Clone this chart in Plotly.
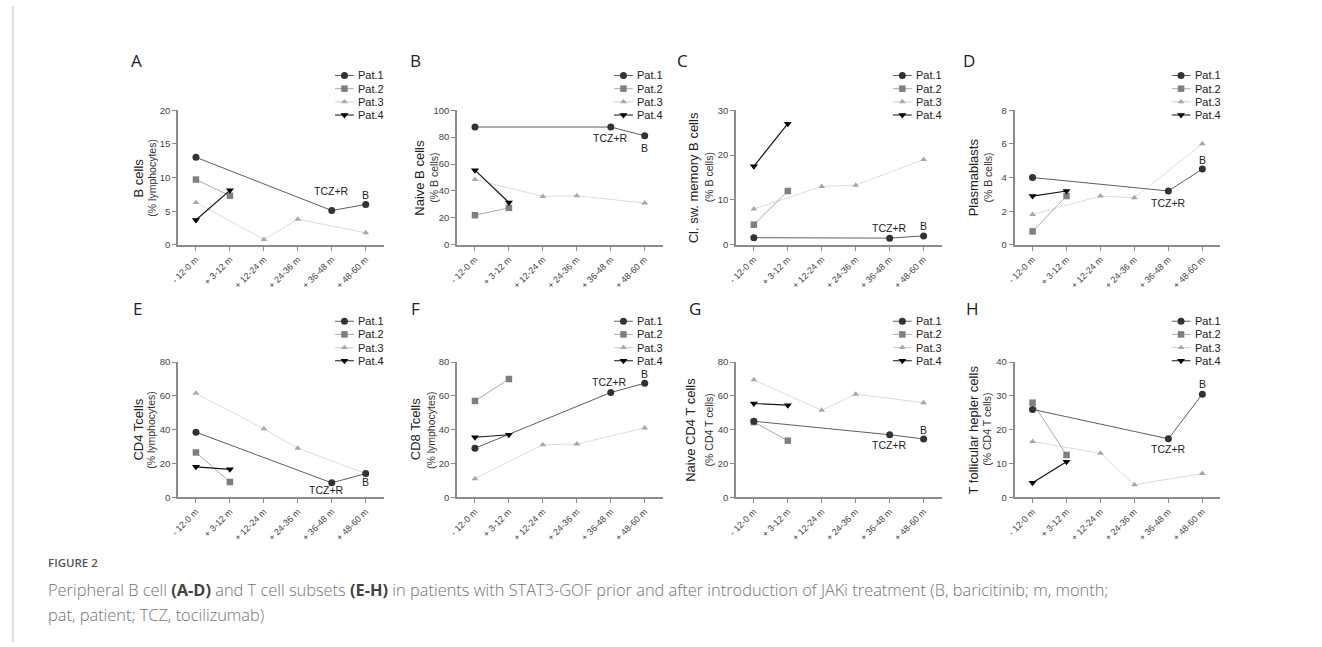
import plotly.graph_objects as go

W, H = 1322, 647

# ---------------- data ----------------
categories = ["- 12-0 m", "+ 3-12 m", "+ 12-24 m", "+ 24-36 m", "+ 36-48 m", "+ 48-60 m"]
patients = ["Pat.1", "Pat.2", "Pat.3", "Pat.4"]
panel_letters = ["A", "B", "C", "D", "E", "F", "G", "H"]
y_titles = ["B cells", "Naive B cells", "Cl. sw. memory B cells", "Plasmablasts",
            "CD4 Tcells", "CD8 Tcells", "Naive CD4 T cells", "T follicular hepler cells"]
y_units = ["(% lymphocytes)", "(% B cells)", "(% B cells)", "(% B cells)",
           "(% lymphocytes)", "(% lymphocytes)", "(% CD4 T cells)", "(% CD4 T cells)"]
y_max = [20, 100, 30, 8, 80, 80, 80, 40]
y_dtick = [5, 20, 10, 2, 20, 20, 20, 10]

N = None
A_pat1 = [13.0, N, N, N, 5.1, 6.0]
A_pat2 = [9.7, 7.3, N, N, N, N]
A_pat3 = [6.3, N, 0.8, 3.8, N, 1.8]
A_pat4 = [3.7, 8.1, N, N, N, N]
B_pat1 = [87.5, N, N, N, 87.5, 81.0]
B_pat2 = [22.0, 27.5, N, N, N, N]
B_pat3 = [48.5, N, 36.0, 36.5, N, 31.0]
B_pat4 = [55.5, 31.5, N, N, N, N]
C_pat1 = [1.6, N, N, N, 1.5, 2.0]
C_pat2 = [4.5, 12.0, N, N, N, N]
C_pat3 = [8.0, N, 13.0, 13.3, N, 19.0]
C_pat4 = [17.5, 27.0, N, N, N, N]
D_pat1 = [4.0, N, N, N, 3.2, 4.5]
D_pat2 = [0.8, 2.9, N, N, N, N]
D_pat3 = [1.8, N, 2.9, 2.8, N, 6.0]
D_pat4 = [2.9, 3.2, N, N, N, N]
E_pat1 = [38.5, N, N, N, 8.5, 14.0]
E_pat2 = [26.5, 9.0, N, N, N, N]
E_pat3 = [61.5, N, 40.5, 29.0, N, 14.0]
E_pat4 = [18.0, 16.5, N, N, N, N]
F_pat1 = [29.0, N, N, N, 62.0, 67.5]
F_pat2 = [57.0, 70.0, N, N, N, N]
F_pat3 = [11.0, N, 31.0, 31.5, N, 41.0]
F_pat4 = [35.5, 37.0, N, N, N, N]
G_pat1 = [45.0, N, N, N, 37.0, 34.5]
G_pat2 = [44.5, 33.5, N, N, N, N]
G_pat3 = [69.5, N, 51.5, 61.0, N, 56.0]
G_pat4 = [55.5, 54.5, N, N, N, N]
H_pat1 = [26.0, N, N, N, 17.3, 30.5]
H_pat2 = [28.0, 12.5, N, N, N, N]
H_pat3 = [16.5, N, 13.0, 3.7, N, 7.0]
H_pat4 = [4.3, 10.5, N, N, N, N]

panels = [
    [A_pat1, A_pat2, A_pat3, A_pat4],
    [B_pat1, B_pat2, B_pat3, B_pat4],
    [C_pat1, C_pat2, C_pat3, C_pat4],
    [D_pat1, D_pat2, D_pat3, D_pat4],
    [E_pat1, E_pat2, E_pat3, E_pat4],
    [F_pat1, F_pat2, F_pat3, F_pat4],
    [G_pat1, G_pat2, G_pat3, G_pat4],
    [H_pat1, H_pat2, H_pat3, H_pat4],
]
label_tcz = "TCZ+R"
label_b = "B"

# ---------------- styles / layout ----------------
FONT = "Liberation Sans, Arial, sans-serif"
styles = [
    dict(mc="#333333", lc="#5f5f5f", sym="circle", size=7, lw=1.0),
    dict(mc="#7f7f7f", lc="#ababab", sym="square", size=6.5, lw=1.0),
    dict(mc="#a8a8a8", lc="#dcdcdc", sym="triangle-up", size=6, lw=1.0),
    dict(mc="#000000", lc="#151515", sym="triangle-down", size=7, lw=1.2),
]
draw_order = [2, 1, 0, 3]

col_x0 = [171, 451.7, 732.3, 1012.7]
plot_w = 207
row_top = [106, 362.3]
row_bot = [243, 499.7]
leg_top = [70.7, 320.7]
leg_step = 13.4
title_off = [-39.3, -38, -42.3, -41, -39.3, -41.7, -45, -41]
unit_off = [-27, -24, -27.3, -27.7, -27, -26.7, -27.3, -27.7]
letter_x = [129, 410, 679, 967, 130, 410, 691, 970]
letter_y = [55, 308]
tcz_shift = [-20, 11, -10.5, 12, 7.6, -10.5, 10, 10.7]
tcz_xshift = [0, 0, 0, 0, -5, -1, 0, 0]
b_shift = [-9, 12, -9.6, -9.3, 8.6, -9.5, -8.7, -10]


def fx(px):
    return px / W


def fy(py):
    return 1 - py / H


fig = go.Figure()
layout = dict(
    width=W, height=H,
    margin=dict(l=0, r=0, t=0, b=0),
    paper_bgcolor="white", plot_bgcolor="rgba(0,0,0,0)",
    showlegend=False,
    font=dict(family=FONT, color="#333"),
)
annotations = []
shapes = []

for i, series in enumerate(panels):
    r, c = divmod(i, 4)
    n = i + 1
    x0 = col_x0[c]
    xa = "x" if n == 1 else f"x{n}"
    ya = "y" if n == 1 else f"y{n}"
    axc = "#8c8c8c"
    layout["xaxis" if n == 1 else f"xaxis{n}"] = dict(
        domain=[fx(x0), fx(x0 + plot_w)], anchor=ya,
        range=[-0.53, 5.53], tickmode="array", tickvals=list(range(len(categories))),
        ticktext=categories, tickangle=-45,
        showline=True, linecolor=axc, linewidth=1.5,
        ticks="outside", ticklen=4, tickcolor=axc, tickwidth=1.2,
        showgrid=False, zeroline=False,
        tickfont=dict(family=FONT, size=9, color="#444"), fixedrange=True,
    )
    layout["yaxis" if n == 1 else f"yaxis{n}"] = dict(
        domain=[fy(row_bot[r]), fy(row_top[r])], anchor=xa,
        range=[0, y_max[i]], dtick=y_dtick[i], tick0=0,
        showline=True, linecolor=axc, linewidth=1.5,
        ticks="outside", ticklen=4, tickcolor=axc, tickwidth=1.2,
        showgrid=False, zeroline=False,
        tickfont=dict(family=FONT, size=9.5, color="#444"), fixedrange=True,
    )
    for k in draw_order:
        st = styles[k]
        fig.add_trace(go.Scatter(
            x=list(range(len(categories))), y=series[k], xaxis=xa, yaxis=ya,
            mode="lines+markers", connectgaps=True, cliponaxis=False,
            line=dict(color=st["lc"], width=st["lw"]),
            marker=dict(color=st["mc"], symbol=st["sym"], size=st["size"], line=dict(width=0)),
            name=patients[k], hoverinfo="skip",
        ))
    p1 = series[0]
    annotations.append(dict(x=4, y=p1[4], xref=xa, yref=ya, text=label_tcz, showarrow=False,
                            xanchor="center", yanchor="middle", yshift=-tcz_shift[i],
                            xshift=tcz_xshift[i],
                            font=dict(family=FONT, size=10.5, color="#222")))
    annotations.append(dict(x=5, y=p1[5], xref=xa, yref=ya, text=label_b, showarrow=False,
                            xanchor="center", yanchor="middle", yshift=-b_shift[i],
                            font=dict(family=FONT, size=10.5, color="#222")))
    yc = (row_top[r] + row_bot[r]) / 2
    annotations.append(dict(x=fx(x0 + title_off[i]), y=fy(yc), xref="paper", yref="paper",
                            text=y_titles[i], textangle=-90, showarrow=False,
                            xanchor="center", yanchor="middle",
                            font=dict(family=FONT, size=13, color="#222")))
    annotations.append(dict(x=fx(x0 + unit_off[i]), y=fy(yc), xref="paper", yref="paper",
                            text=y_units[i], textangle=-90, showarrow=False,
                            xanchor="center", yanchor="middle",
                            font=dict(family=FONT, size=10.5, color="#333")))
    annotations.append(dict(x=fx(letter_x[i]), y=fy(letter_y[r]), xref="paper", yref="paper",
                            text=panel_letters[i], showarrow=False,
                            xanchor="center", yanchor="middle",
                            font=dict(family="Open Sans, sans-serif", size=17, color="#222")))

    # legend drawn in a small helper axis
    m = i + 9
    lxa, lya = f"x{m}", f"y{m}"
    lx0 = x0 + 158
    lt = leg_top[r] - 10
    layout[f"xaxis{m}"] = dict(domain=[fx(lx0), fx(lx0 + 60)], range=[0, 60], anchor=lya,
                              visible=False, fixedrange=True)
    layout[f"yaxis{m}"] = dict(domain=[fy(lt + 60), fy(lt)], range=[60, 0], anchor=lxa,
                              visible=False, fixedrange=True)
    for k, name in enumerate(patients):
        st = styles[k]
        yk = 10 + leg_step * k
        fig.add_trace(go.Scatter(
            x=[0, 19], y=[yk, yk], xaxis=lxa, yaxis=lya, mode="lines",
            line=dict(color=st["lc"] if k != 2 else "#cfcfcf", width=st["lw"]),
            hoverinfo="skip", cliponaxis=False))
        fig.add_trace(go.Scatter(
            x=[9.5], y=[yk], xaxis=lxa, yaxis=lya, mode="markers",
            marker=dict(color=st["mc"], symbol=st["sym"], size=st["size"], line=dict(width=0)),
            hoverinfo="skip", cliponaxis=False))
        annotations.append(dict(x=21.5, y=yk, xref=lxa, yref=lya, text=name, showarrow=False,
                                xanchor="left", yanchor="middle",
                                font=dict(family=FONT, size=11, color="#222")))

annotations.append(dict(x=fx(38), y=fy(566), xref="paper", yref="paper", text="FIGURE 2",
                        showarrow=False, xanchor="left", yanchor="middle",
                        font=dict(family="Open Sans, sans-serif", size=11.5, color="#555", weight=600)))
cap1 = ("Peripheral B cell <b><span style='color:#444'>(A-D)</span></b> and T cell subsets "
        "<b><span style='color:#444'>(E-H)</span></b> in patients with STAT3-GOF prior and after "
        "introduction of JAKi treatment (B, baricitinib; m, month;")
cap2 = "pat, patient; TCZ, tocilizumab)"
annotations.append(dict(x=fx(38), y=fy(594), xref="paper", yref="paper", text=cap1,
                        showarrow=False, xanchor="left", yanchor="middle",
                        font=dict(family="Open Sans, sans-serif", size=16.4, color="#747474", weight=300)))
annotations.append(dict(x=fx(38), y=fy(619), xref="paper", yref="paper", text=cap2,
                        showarrow=False, xanchor="left", yanchor="middle",
                        font=dict(family="Open Sans, sans-serif", size=16.4, color="#747474", weight=300)))

shapes.append(dict(type="line", xref="paper", yref="paper", x0=fx(5), x1=fx(5), y0=0, y1=1,
                   line=dict(color="#d0d0d0", width=1.5)))

layout["annotations"] = annotations
layout["shapes"] = shapes
fig.update_layout(**layout)
fig.write_html("out.html", config={"displayModeBar": False},
               post_script="document.body.style.margin='0';document.body.style.overflow='hidden';")
